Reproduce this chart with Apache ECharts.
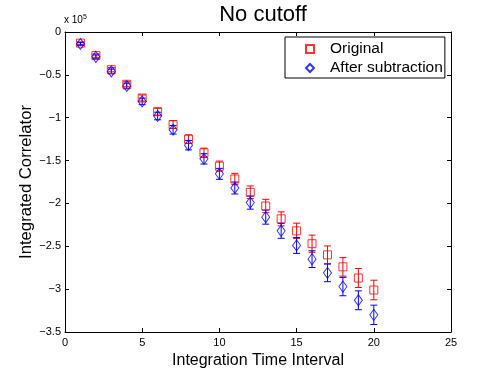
<!DOCTYPE html>
<html>
<head>
<meta charset="utf-8">
<script src="https://cdn.jsdelivr.net/npm/echarts@6/dist/echarts.min.js"></script>
<style>
  html, body { margin: 0; padding: 0; background: #fff; }
  #chart { width: 498px; height: 375px; }
</style>
</head>
<body>
<div id="chart"></div>
<script>
// integration time interval
var xs = [1, 2, 3, 4, 5, 6, 7, 8, 9, 10, 11, 12, 13, 14, 15, 16, 17, 18, 19, 20];
// values in units of 1e5
var original = [-0.13, -0.275, -0.44, -0.61, -0.77, -0.93, -1.08, -1.25, -1.41, -1.565,
  -1.715, -1.87, -2.03, -2.18, -2.32, -2.47, -2.60, -2.74, -2.87, -3.01];
var originalErr = [0.015, 0.02, 0.025, 0.03, 0.035, 0.04, 0.045, 0.05, 0.055, 0.059,
  0.066, 0.074, 0.078, 0.082, 0.09, 0.1, 0.104, 0.108, 0.111, 0.114];
var after = [-0.14, -0.29, -0.46, -0.63, -0.81, -0.98, -1.14, -1.32, -1.48, -1.655,
  -1.82, -1.99, -2.16, -2.32, -2.49, -2.65, -2.81, -2.97, -3.13, -3.30];
var afterErr = [0.016, 0.022, 0.027, 0.033, 0.038, 0.044, 0.05, 0.055, 0.06, 0.064,
  0.07, 0.077, 0.082, 0.087, 0.093, 0.098, 0.103, 0.107, 0.11, 0.113];

var FONT = "'Liberation Sans', Arial, Helvetica, sans-serif";

function pts(vals) {
  return xs.map(function (x, i) { return [x, vals[i]]; });
}
function bars(vals, errs) {
  return xs.map(function (x, i) { return [x, vals[i] - errs[i], vals[i] + errs[i]]; });
}
function minus(v) {
  return String(v).replace('-', '\u2212');
}

// error bars with caps
function errRender(color) {
  return function (params, api) {
    var x = api.value(0);
    var lo = api.coord([x, api.value(1)]);
    var hi = api.coord([x, api.value(2)]);
    var w = 3.5;
    var st = { stroke: color, lineWidth: 1 };
    return {
      type: 'group',
      children: [
        { type: 'line', shape: { x1: hi[0], y1: hi[1], x2: lo[0], y2: lo[1] }, style: st },
        { type: 'line', shape: { x1: hi[0] - w, y1: hi[1], x2: hi[0] + w, y2: hi[1] }, style: st },
        { type: 'line', shape: { x1: lo[0] - w, y1: lo[1], x2: lo[0] + w, y2: lo[1] }, style: st }
      ]
    };
  };
}

var chart = echarts.init(document.getElementById('chart'));

var axisLineStyle = { show: true, onZero: false, lineStyle: { color: '#000', width: 1 } };
var tickStyle = { show: true, inside: true, length: 4, lineStyle: { color: '#000' } };

var option = {
  animation: false,
  backgroundColor: '#fff',
  title: {
    text: 'No cutoff',
    left: 258,
    textAlign: 'center',
    top: -1,
    textStyle: { fontFamily: FONT, fontSize: 22, fontWeight: 'normal', color: '#000' }
  },
  grid: { left: 65, right: 47, top: 32, bottom: 43 },
  legend: {
    data: ['Original', 'After subtraction'],
    orient: 'vertical',
    left: 285,
    top: 37,
    itemWidth: 8,
    itemHeight: 8,
    itemGap: 3,
    padding: [4, 2, 2, 20],
    borderColor: '#000',
    borderWidth: 1,
    backgroundColor: '#fff',
    textStyle: { fontFamily: FONT, fontSize: 15.5, color: '#000', padding: [0, 0, 0, 11] }
  },
  graphic: [{
    type: 'text',
    left: 64,
    top: 14,
    style: {
      text: 'x 10{sup|5}',
      fontFamily: FONT,
      fontSize: 10,
      fill: '#000',
      rich: { sup: { fontSize: 7, verticalAlign: 'top', padding: [0, 0, 5, 0] } }
    }
  }],
  xAxis: [{
    type: 'value',
    min: 0, max: 25, interval: 5,
    name: 'Integration Time Interval',
    nameLocation: 'middle',
    nameGap: 15,
    nameTextStyle: { fontFamily: FONT, fontSize: 16, color: '#000' },
    axisLine: axisLineStyle,
    axisTick: tickStyle,
    axisLabel: { fontFamily: FONT, fontSize: 11, color: '#000', margin: 5, showMinLabel: true, showMaxLabel: true },
    splitLine: { show: false }
  }, {
    type: 'value',
    position: 'top',
    min: 0, max: 25, interval: 5,
    axisLine: axisLineStyle,
    axisTick: tickStyle,
    axisLabel: { show: false },
    splitLine: { show: false }
  }],
  yAxis: [{
    type: 'value',
    min: -3.5, max: 0, interval: 0.5,
    name: 'Integrated Correlator',
    nameLocation: 'middle',
    nameGap: 30,
    nameMoveOverlap: false,
    nameTextStyle: { fontFamily: FONT, fontSize: 16.7, color: '#000' },
    axisLine: axisLineStyle,
    axisTick: tickStyle,
    axisLabel: { fontFamily: FONT, fontSize: 11, color: '#000', margin: 4, formatter: minus, showMinLabel: true, showMaxLabel: true },
    splitLine: { show: false }
  }, {
    type: 'value',
    position: 'right',
    min: -3.5, max: 0, interval: 0.5,
    axisLine: axisLineStyle,
    axisTick: tickStyle,
    axisLabel: { show: false },
    splitLine: { show: false }
  }],
  series: [
    {
      name: 'origErr',
      type: 'custom',
      renderItem: errRender('#ff0000'),
      data: bars(original, originalErr),
      encode: { x: 0, y: [1, 2] },
      z: 2
    },
    {
      name: 'afterErr',
      type: 'custom',
      renderItem: errRender('#0000ff'),
      data: bars(after, afterErr),
      encode: { x: 0, y: [1, 2] },
      z: 2
    },
    {
      name: 'Original',
      type: 'scatter',
      symbol: 'rect',
      symbolSize: 8,
      itemStyle: { color: 'rgba(0,0,0,0)', borderColor: '#ff0000', borderWidth: 1 },
      data: pts(original),
      z: 3
    },
    {
      name: 'After subtraction',
      type: 'scatter',
      symbol: 'diamond',
      symbolSize: [8, 11],
      itemStyle: { color: 'rgba(0,0,0,0)', borderColor: '#0000ff', borderWidth: 1 },
      data: pts(after),
      z: 3
    }
  ]
};

chart.setOption(option);
</script>
</body>
</html>
